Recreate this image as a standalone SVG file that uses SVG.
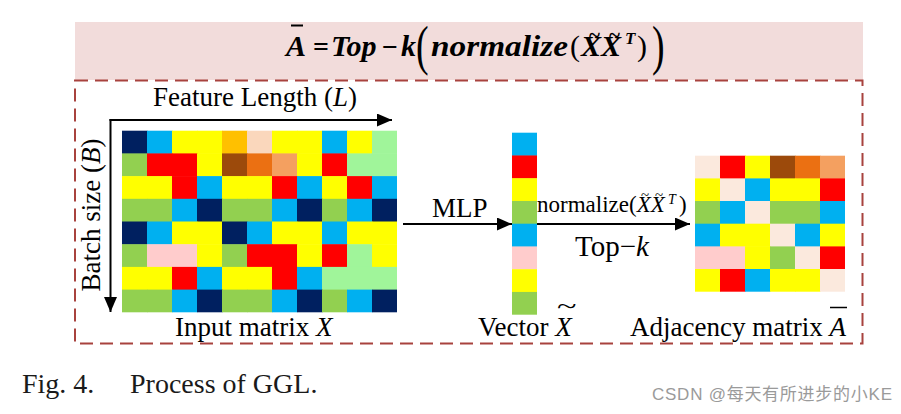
<svg xmlns="http://www.w3.org/2000/svg" width="901" height="414" viewBox="0 0 901 414">
<style>
.N{fill:#002060}.C{fill:#00B0F0}.Y{fill:#FFFF00}.O{fill:#FFC000}.P{fill:#FAD7BC}.G{fill:#92D050}.R{fill:#FF0000}.B{fill:#9C4A0B}.D{fill:#EB7012}.L{fill:#F4A060}.H{fill:#A0F59A}.K{fill:#FFCCCC}.E{fill:#FBE9DD}
text{font-family:"Liberation Serif","Times New Roman",serif;fill:#000}
.lbl{font-size:27px}
.eq{font-size:30px;font-weight:bold;font-style:italic}
.it{font-style:italic}
.conn{stroke:#000;stroke-width:2;fill:none}
</style>
<defs>
<marker id="ah" markerUnits="userSpaceOnUse" markerWidth="15" markerHeight="13" refX="15" refY="6.5" orient="auto">
<path d="M0,0 L15,6.5 L0,13 z" fill="#000"/>
</marker>
</defs>
<rect width="901" height="414" fill="#fff"/>

<g id="header">
<rect x="75" y="22" width="788" height="58" fill="#F2DCDB"/>
<text class="eq" x="286" y="56">A</text>
<line x1="291" y1="25.5" x2="303" y2="25.5" stroke="#000" stroke-width="2"/>
<text x="313" y="56" style="font-size:28px;font-weight:bold">=</text>
<text class="eq" x="331" y="56">Top</text>
<text x="382" y="56" style="font-size:28px;font-weight:bold">−</text>
<text class="eq" x="401" y="56">k</text>
<text x="0" y="0" transform="translate(416,63.5) scale(0.7,1)" style="font-size:54px">(</text>
<text class="eq" x="431" y="56" textLength="137" lengthAdjust="spacingAndGlyphs">normalize</text>
<text x="570" y="56" style="font-size:30px">(</text>
<text class="eq" x="581" y="56">XX</text>
<text x="589" y="42" style="font-size:21px;font-weight:bold">~</text>
<text x="609" y="42" style="font-size:21px;font-weight:bold">~</text>
<text class="eq" x="625" y="44" style="font-size:17px">T</text>
<text x="637" y="56" style="font-size:30px">)</text>
<text x="0" y="0" transform="translate(652,63.5) scale(0.7,1)" style="font-size:54px">)</text>
</g>

<g id="frame">
<rect x="75" y="80.5" width="787.5" height="263" fill="none" stroke="#A8423E" stroke-width="2" stroke-dasharray="13 7"/>
</g>

<g id="input-matrix">
<g>
<rect class="N" x="122" y="130.7" width="25.5" height="23.2"/><rect class="C" x="147" y="130.7" width="25.5" height="23.2"/><rect class="Y" x="172" y="130.7" width="25.5" height="23.2"/><rect class="Y" x="197" y="130.7" width="25.5" height="23.2"/><rect class="O" x="222" y="130.7" width="25.5" height="23.2"/><rect class="P" x="247" y="130.7" width="25.5" height="23.2"/><rect class="Y" x="272" y="130.7" width="25.5" height="23.2"/><rect class="Y" x="297" y="130.7" width="25.5" height="23.2"/><rect class="C" x="322" y="130.7" width="25.5" height="23.2"/><rect class="Y" x="347" y="130.7" width="25.5" height="23.2"/><rect class="H" x="372" y="130.7" width="25" height="23.2"/>
<rect class="G" x="122" y="153.4" width="25.5" height="23.2"/><rect class="R" x="147" y="153.4" width="25.5" height="23.2"/><rect class="R" x="172" y="153.4" width="25.5" height="23.2"/><rect class="Y" x="197" y="153.4" width="25.5" height="23.2"/><rect class="B" x="222" y="153.4" width="25.5" height="23.2"/><rect class="D" x="247" y="153.4" width="25.5" height="23.2"/><rect class="L" x="272" y="153.4" width="25.5" height="23.2"/><rect class="Y" x="297" y="153.4" width="25.5" height="23.2"/><rect class="R" x="322" y="153.4" width="25.5" height="23.2"/><rect class="H" x="347" y="153.4" width="25.5" height="23.2"/><rect class="H" x="372" y="153.4" width="25" height="23.2"/>
<rect class="Y" x="122" y="176.1" width="25.5" height="23.2"/><rect class="Y" x="147" y="176.1" width="25.5" height="23.2"/><rect class="R" x="172" y="176.1" width="25.5" height="23.2"/><rect class="C" x="197" y="176.1" width="25.5" height="23.2"/><rect class="Y" x="222" y="176.1" width="25.5" height="23.2"/><rect class="Y" x="247" y="176.1" width="25.5" height="23.2"/><rect class="R" x="272" y="176.1" width="25.5" height="23.2"/><rect class="C" x="297" y="176.1" width="25.5" height="23.2"/><rect class="Y" x="322" y="176.1" width="25.5" height="23.2"/><rect class="R" x="347" y="176.1" width="25.5" height="23.2"/><rect class="C" x="372" y="176.1" width="25" height="23.2"/>
<rect class="G" x="122" y="198.8" width="25.5" height="23.2"/><rect class="G" x="147" y="198.8" width="25.5" height="23.2"/><rect class="C" x="172" y="198.8" width="25.5" height="23.2"/><rect class="N" x="197" y="198.8" width="25.5" height="23.2"/><rect class="G" x="222" y="198.8" width="25.5" height="23.2"/><rect class="G" x="247" y="198.8" width="25.5" height="23.2"/><rect class="C" x="272" y="198.8" width="25.5" height="23.2"/><rect class="N" x="297" y="198.8" width="25.5" height="23.2"/><rect class="G" x="322" y="198.8" width="25.5" height="23.2"/><rect class="C" x="347" y="198.8" width="25.5" height="23.2"/><rect class="N" x="372" y="198.8" width="25" height="23.2"/>
<rect class="N" x="122" y="221.5" width="25.5" height="23.2"/><rect class="C" x="147" y="221.5" width="25.5" height="23.2"/><rect class="Y" x="172" y="221.5" width="25.5" height="23.2"/><rect class="Y" x="197" y="221.5" width="25.5" height="23.2"/><rect class="N" x="222" y="221.5" width="25.5" height="23.2"/><rect class="C" x="247" y="221.5" width="25.5" height="23.2"/><rect class="Y" x="272" y="221.5" width="25.5" height="23.2"/><rect class="Y" x="297" y="221.5" width="25.5" height="23.2"/><rect class="C" x="322" y="221.5" width="25.5" height="23.2"/><rect class="Y" x="347" y="221.5" width="25.5" height="23.2"/><rect class="Y" x="372" y="221.5" width="25" height="23.2"/>
<rect class="G" x="122" y="244.2" width="25.5" height="23.2"/><rect class="K" x="147" y="244.2" width="25.5" height="23.2"/><rect class="K" x="172" y="244.2" width="25.5" height="23.2"/><rect class="Y" x="197" y="244.2" width="25.5" height="23.2"/><rect class="G" x="222" y="244.2" width="25.5" height="23.2"/><rect class="R" x="247" y="244.2" width="25.5" height="23.2"/><rect class="R" x="272" y="244.2" width="25.5" height="23.2"/><rect class="Y" x="297" y="244.2" width="25.5" height="23.2"/><rect class="R" x="322" y="244.2" width="25.5" height="23.2"/><rect class="H" x="347" y="244.2" width="25.5" height="23.2"/><rect class="Y" x="372" y="244.2" width="25" height="23.2"/>
<rect class="Y" x="122" y="266.9" width="25.5" height="23.2"/><rect class="Y" x="147" y="266.9" width="25.5" height="23.2"/><rect class="R" x="172" y="266.9" width="25.5" height="23.2"/><rect class="C" x="197" y="266.9" width="25.5" height="23.2"/><rect class="Y" x="222" y="266.9" width="25.5" height="23.2"/><rect class="Y" x="247" y="266.9" width="25.5" height="23.2"/><rect class="R" x="272" y="266.9" width="25.5" height="23.2"/><rect class="C" x="297" y="266.9" width="25.5" height="23.2"/><rect class="H" x="322" y="266.9" width="25.5" height="23.2"/><rect class="H" x="347" y="266.9" width="25.5" height="23.2"/><rect class="H" x="372" y="266.9" width="25" height="23.2"/>
<rect class="G" x="122" y="289.6" width="25.5" height="22.7"/><rect class="G" x="147" y="289.6" width="25.5" height="22.7"/><rect class="C" x="172" y="289.6" width="25.5" height="22.7"/><rect class="N" x="197" y="289.6" width="25.5" height="22.7"/><rect class="G" x="222" y="289.6" width="25.5" height="22.7"/><rect class="G" x="247" y="289.6" width="25.5" height="22.7"/><rect class="C" x="272" y="289.6" width="25.5" height="22.7"/><rect class="N" x="297" y="289.6" width="25.5" height="22.7"/><rect class="G" x="322" y="289.6" width="25.5" height="22.7"/><rect class="C" x="347" y="289.6" width="25.5" height="22.7"/><rect class="N" x="372" y="289.6" width="25" height="22.7"/>
</g>
<text class="lbl" x="153" y="106" textLength="204">Feature Length (<tspan class="it">L</tspan>)</text>
<text class="lbl" x="0" y="0" text-anchor="middle" transform="translate(100,215) rotate(-90)">Batch size (<tspan class="it">B</tspan>)</text>
<text class="lbl" x="175" y="336">Input matrix <tspan class="it">X</tspan></text>
</g>

<g id="vector">
<rect class="C" x="512" y="132.7" width="25" height="23.2"/>
<rect class="R" x="512" y="155.45" width="25" height="23.2"/>
<rect class="Y" x="512" y="178.2" width="25" height="23.2"/>
<rect class="G" x="512" y="200.95" width="25" height="23.2"/>
<rect class="C" x="512" y="223.7" width="25" height="23.2"/>
<rect class="K" x="512" y="246.45" width="25" height="23.2"/>
<rect class="Y" x="512" y="269.2" width="25" height="23.2"/>
<rect class="G" x="512" y="291.95" width="25" height="22.75"/>
<text class="lbl" x="478" y="336">Vector <tspan class="it">X</tspan></text>
<text x="0" y="0" transform="translate(557,314) scale(1.5,1)" style="font-size:24px">~</text>
</g>

<g id="adjacency">
<rect class="E" x="695" y="155.7" width="25.5" height="23.2"/><rect class="R" x="720" y="155.7" width="25.5" height="23.2"/><rect class="Y" x="745" y="155.7" width="25.5" height="23.2"/><rect class="B" x="770" y="155.7" width="25.5" height="23.2"/><rect class="D" x="795" y="155.7" width="25.5" height="23.2"/><rect class="L" x="820" y="155.7" width="25" height="23.2"/>
<rect class="Y" x="695" y="178.4" width="25.5" height="23.2"/><rect class="E" x="720" y="178.4" width="25.5" height="23.2"/><rect class="C" x="745" y="178.4" width="25.5" height="23.2"/><rect class="Y" x="770" y="178.4" width="25.5" height="23.2"/><rect class="Y" x="795" y="178.4" width="25.5" height="23.2"/><rect class="R" x="820" y="178.4" width="25" height="23.2"/>
<rect class="G" x="695" y="201" width="25.5" height="23.2"/><rect class="C" x="720" y="201" width="25.5" height="23.2"/><rect class="E" x="745" y="201" width="25.5" height="23.2"/><rect class="G" x="770" y="201" width="25.5" height="23.2"/><rect class="G" x="795" y="201" width="25.5" height="23.2"/><rect class="C" x="820" y="201" width="25" height="23.2"/>
<rect class="C" x="695" y="223.7" width="25.5" height="23.2"/><rect class="Y" x="720" y="223.7" width="25.5" height="23.2"/><rect class="Y" x="745" y="223.7" width="25.5" height="23.2"/><rect class="E" x="770" y="223.7" width="25.5" height="23.2"/><rect class="C" x="795" y="223.7" width="25.5" height="23.2"/><rect class="Y" x="820" y="223.7" width="25" height="23.2"/>
<rect class="K" x="695" y="246.4" width="25.5" height="23.2"/><rect class="K" x="720" y="246.4" width="25.5" height="23.2"/><rect class="Y" x="745" y="246.4" width="25.5" height="23.2"/><rect class="G" x="770" y="246.4" width="25.5" height="23.2"/><rect class="E" x="795" y="246.4" width="25.5" height="23.2"/><rect class="R" x="820" y="246.4" width="25" height="23.2"/>
<rect class="Y" x="695" y="269" width="25.5" height="22.7"/><rect class="R" x="720" y="269" width="25.5" height="22.7"/><rect class="C" x="745" y="269" width="25.5" height="22.7"/><rect class="Y" x="770" y="269" width="25.5" height="22.7"/><rect class="Y" x="795" y="269" width="25.5" height="22.7"/><rect class="E" x="820" y="269" width="25" height="22.7"/>
<text class="lbl" x="630" y="336">Adjacency matrix <tspan class="it">A</tspan></text>
<line x1="830" y1="307.5" x2="847" y2="307.5" stroke="#000" stroke-width="1.5"/>
</g>

<g id="connectors">
<line class="conn" x1="109.5" y1="120" x2="392" y2="120" marker-end="url(#ah)"/>
<line class="conn" x1="110.5" y1="119" x2="110.5" y2="312" marker-end="url(#ah)"/>
<line class="conn" x1="403" y1="224" x2="512" y2="224" marker-end="url(#ah)"/>
<line class="conn" x1="537" y1="224" x2="690" y2="224" marker-end="url(#ah)"/>
<text class="lbl" x="432" y="217">MLP</text>
<text x="537" y="212" style="font-size:23px">normalize(<tspan class="it">XX</tspan></text>
<text x="641" y="200" style="font-size:15px">~</text>
<text x="655" y="200" style="font-size:15px">~</text>
<text class="it" x="668" y="204" style="font-size:14px">T</text>
<text x="679" y="212" style="font-size:23px">)</text>
<text x="575" y="256" style="font-size:29px">Top−<tspan class="it">k</tspan></text>
</g>

<g id="caption">
<text x="22" y="393" style="font-size:28px;fill:#1a1a1a">Fig. 4.</text>
<text x="130" y="393" style="font-size:28px;fill:#1a1a1a">Process of GGL.</text>
<text x="652" y="400" textLength="240" style="font-family:'Liberation Sans','Noto Sans CJK SC',sans-serif;font-size:17px;fill:#9a9a9a">CSDN @每天有所进步的小KE</text>
</g>
</svg>
